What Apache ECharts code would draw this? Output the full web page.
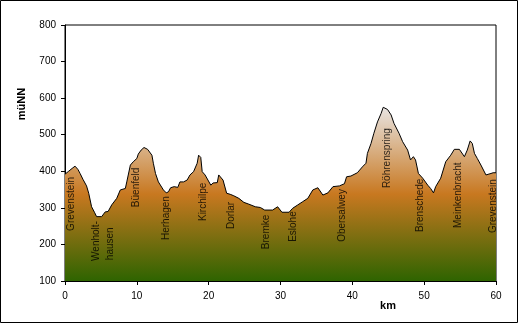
<!DOCTYPE html>
<html>
<head>
<meta charset="utf-8">
<script src="https://cdn.jsdelivr.net/npm/echarts@6/dist/echarts.min.js"></script>
<style>
html,body{margin:0;padding:0;background:#fff;}
#c{width:519px;height:324px;}
</style>
</head>
<body>
<div id="c"></div>
<script>
// distance along the route (km)
const km = [0, 0.5, 1.0, 1.4, 1.8, 2.1, 2.5, 2.7, 3.0, 3.3, 3.7, 4.1, 4.4, 4.6, 5.1, 5.6, 6.0, 6.5, 7.2, 7.7,
  8.4, 8.6, 9.1, 9.5, 10.0, 10.2, 10.6, 11.0, 11.5, 12.1, 12.3, 12.6, 13.0, 13.7, 14.1, 14.4, 14.7, 15.2, 15.7, 16.0,
  16.5, 17.0, 17.4, 17.9, 18.4, 18.6, 18.9, 19.1, 19.5, 20.3, 20.6, 21.2, 21.4, 21.6, 22.0, 22.5, 23.0, 23.5, 24.2, 24.9,
  25.6, 26.5, 27.2, 27.8, 28.9, 29.6, 30.2, 31.2, 31.7, 32.4, 33.1, 33.8, 34.5, 35.2, 35.9, 36.6, 37.3, 38.2, 38.9, 39.2,
  39.8, 40.7, 41.4, 41.9, 42.1, 42.6, 43.0, 43.5, 44.0, 44.3, 44.9, 45.4, 45.8, 46.5, 47.0, 47.7, 48.1, 48.5, 48.8, 49.2,
  49.8, 50.5, 50.9, 51.3, 51.6, 52.3, 53.0, 53.7, 54.2, 54.9, 55.6, 56.0, 56.4, 56.7, 57.0, 57.4, 57.9, 58.6, 59.3, 59.6, 60];
// elevation (m ü. NN)
const elevation = [392, 400, 408, 414, 405, 394, 378, 382, 360, 340, 303, 288, 276, 273, 276, 289, 290, 308, 326, 349,
  353, 371, 417, 426, 435, 447, 458, 465, 460, 444, 422, 394, 371, 349, 341, 344, 355, 358, 356, 371,
  371, 376, 390, 399, 422, 444, 438, 399, 390, 362, 368, 369, 390, 392, 376, 340, 337, 333, 326, 315,
  310, 303, 301, 294, 294, 303, 288, 288, 299, 308, 317, 326, 349, 355, 335, 341, 358, 360, 366, 385,
  387, 396, 412, 422, 449, 476, 504, 535, 558, 575, 569, 554, 531, 504, 481, 458, 431, 440, 431, 394,
  381, 362, 353, 341, 358, 381, 426, 444, 460, 460, 440, 458, 483, 476, 449, 435, 417, 390, 394, 396, 396];
// place names and where their labels sit (km, elevation of label start)
const places = ["Grevenstein", "Wenholt-", "hausen", "Büenfeld", "Herhagen", "Kirchilpe", "Dorlar", "Bremke",
  "Eslohe", "Obersalwey", "Röhrenspring", "Brenschede", "Meinkenbracht", "Grevenstein"];
const placeKm = [0.85, 4.35, 6.3, 9.9, 14.1, 19.3, 23.2, 28.0, 31.8, 38.6, 44.9, 49.5, 54.7, 59.6];
const placeElev = [237, 155, 157, 302, 212, 264, 242, 187, 207, 207, 354, 234, 245, 231];
// axis ticks
const yTicks = [100, 200, 300, 400, 500, 600, 700, 800];
const xTicks = [0, 10, 20, 30, 40, 50, 60];

const chart = echarts.init(document.getElementById('c'), null, {renderer: 'canvas'});
const FONT = 'Liberation Sans, Arial, sans-serif';
chart.setOption({
  animation: false,
  backgroundColor: '#fff',
  grid: {left: 65, top: 25, right: 23, bottom: 43, show: true, borderColor: '#000', borderWidth: 1, backgroundColor: 'transparent'},
  xAxis: {
    type: 'value', min: xTicks[0], max: xTicks[xTicks.length - 1], interval: 10,
    axisLine: {lineStyle: {color: '#000', width: 1}},
    axisTick: {show: true, length: 4, inside: false, lineStyle: {color: '#000'}},
    axisLabel: {color: '#000', fontFamily: FONT, fontSize: 10, margin: 10},
    splitLine: {show: false}
  },
  yAxis: {
    type: 'value', min: yTicks[0], max: yTicks[yTicks.length - 1], interval: 100,
    axisLine: {show: true, lineStyle: {color: '#000', width: 1}},
    axisTick: {show: true, length: 4, inside: false, lineStyle: {color: '#000'}},
    axisLabel: {color: '#000', fontFamily: FONT, fontSize: 10, margin: 9},
    splitLine: {show: false}
  },
  graphic: [
    {type: 'rect', shape: {x: 0.5, y: 0.5, width: 517, height: 322}, style: {fill: 'none', stroke: '#000', lineWidth: 1}, silent: true, z: 100},
    {type: 'text', x: 22, y: 104, rotation: Math.PI / 2, style: {text: 'müNN', font: 'bold 11px ' + FONT, fill: '#000', textAlign: 'center', textVerticalAlign: 'middle'}},
    {type: 'text', x: 388, y: 306, style: {text: 'km', font: 'bold 11px ' + FONT, fill: '#000', textAlign: 'center', textVerticalAlign: 'middle'}}
  ],
  series: [
    {
      type: 'line',
      data: km.map((k, i) => [k, elevation[i]]),
      symbol: 'none',
      lineStyle: {color: '#000', width: 1},
      areaStyle: {
        opacity: 1,
        color: new echarts.graphic.LinearGradient(0, 0, 0, 1, [
          {offset: 0, color: '#E8E4E2'},
          {offset: 0.5, color: '#C87820'},
          {offset: 1, color: '#2E6400'}
        ])
      },
      z: 2
    },
    {
      type: 'scatter',
      data: placeKm.map((k, i) => ({value: [k, placeElev[i]], name: places[i]})),
      symbolSize: 0,
      silent: true,
      label: {
        show: true, position: 'inside', rotate: 90, align: 'left', verticalAlign: 'middle',
        formatter: p => p.name, color: '#000', fontFamily: FONT, fontSize: 10
      },
      z: 5
    }
  ]
});
</script>
</body>
</html>
